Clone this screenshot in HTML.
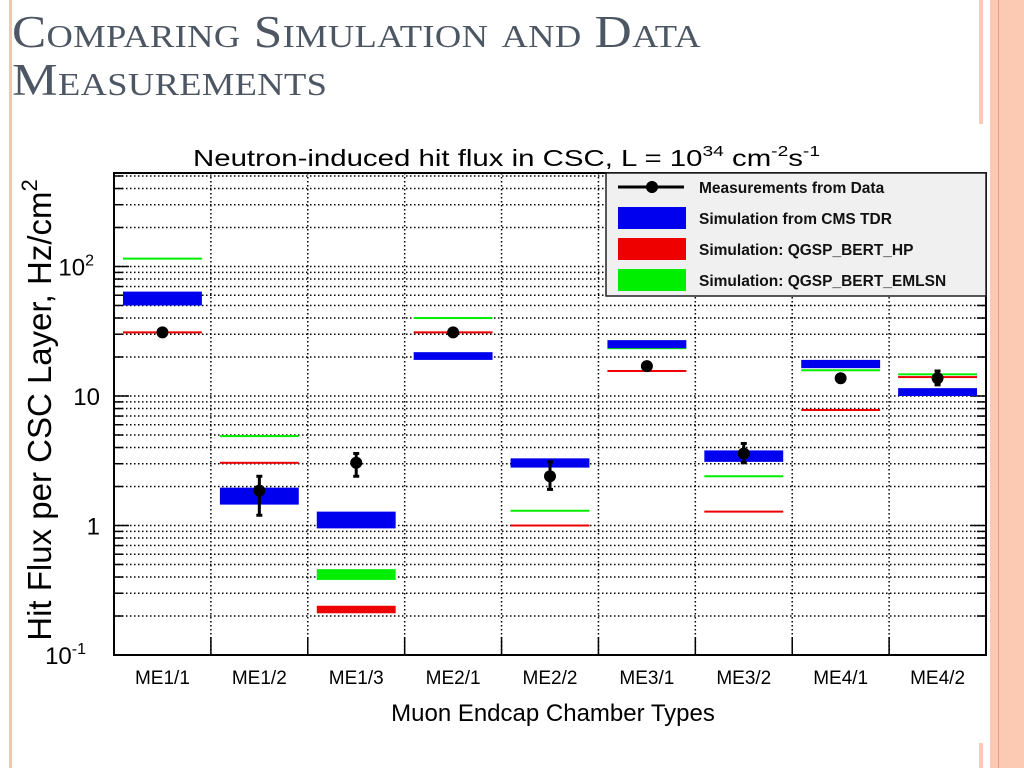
<!DOCTYPE html>
<html><head><meta charset="utf-8"><style>
html,body{margin:0;padding:0;background:#fff;}
body{width:1024px;height:768px;position:relative;overflow:hidden;font-family:"Liberation Sans",sans-serif;}
.deco{position:absolute;}
#slide-title{position:absolute;left:12px;top:8px;font-family:"Liberation Serif",serif;color:#4d5663;font-size:45px;line-height:48px;font-variant:small-caps;letter-spacing:0.3px;margin:0;font-weight:normal;white-space:nowrap;transform:scaleX(1.14);transform-origin:0 0;}
svg{position:absolute;left:0;top:0;}
</style></head><body>
<div class="deco" style="left:9px;top:0;width:3px;height:768px;background:#f9c3b2"></div>
<div class="deco" style="left:990px;top:0;width:34px;height:768px;background:#fcc9b2"></div>
<div class="deco" style="left:998px;top:0;width:1px;height:768px;background:#eea080"></div>
<div class="deco" style="left:979px;top:0;width:4px;height:124px;background:#fccbb8"></div>
<div class="deco" style="left:979px;top:743px;width:4px;height:25px;background:#fccbb8"></div>
<h1 id="slide-title">Comparing Simulation and Data<br>Measurements</h1>
<svg id="chart" width="1024" height="768"></svg>
<script>
const categories=["ME1/1","ME1/2","ME1/3","ME2/1","ME2/2","ME3/1","ME3/2","ME4/1","ME4/2"];
const dataVal=[31,1.86,3.05,31,2.4,17,3.6,13.7,13.7];
const dataLo=[29,1.2,2.4,29,1.9,16,3.05,13,12.2];
const dataHi=[33,2.4,3.6,33,3.1,18,4.3,14.5,15.6];
const tdrLo=[50,1.45,0.95,19,2.8,23.4,3.1,16.4,10];
const tdrHi=[64,1.96,1.28,21.8,3.3,27,3.8,19,11.5];
const hpLo=[31,3.05,0.21,31,1.0,15.6,1.28,7.8,14];
const hpHi=[31,3.05,0.24,31,1.0,15.6,1.28,7.8,14];
const emLo=[115,4.9,0.38,40,1.3,23.4,2.4,15.8,14.7];
const emHi=[115,4.9,0.46,40,1.3,23.4,2.4,15.8,14.7];
const yMajor=[0.1,1,10,100];
const yMajorLabels=["10","1","10","10"];
const yMajorSup=["-1","","","2"];

const NS="http://www.w3.org/2000/svg";
const svg=document.getElementById('chart');
const L=114,R=986,T=173,B=655;
const yMinLog=-1,pxPerDec=129.5;
function y(v){return B-(Math.log10(v)-yMinLog)*pxPerDec;}
const cw=(R-L)/categories.length;
function xc(i){return L+cw*(i+0.5);}
function mk(tag,attrs,parent){const e=document.createElementNS(NS,tag);for(const k in attrs)e.setAttribute(k,attrs[k]);(parent||svg).appendChild(e);return e;}

const grid=mk('g',{});


for(let d=-1;d<3;d++){for(let m=1;m<=9;m++){const v=m*Math.pow(10,d);const yy=y(v);if(yy<T)continue;
  if(yy<B-1){const gl=mk('line',{x1:L,x2:R,y1:yy,y2:yy,stroke:'#000','stroke-width':1.5,'stroke-dasharray':'1.5 2.5'},grid);
  }
  const len=m===1?15:9;
  const t1=mk('line',{x1:L,x2:L+len,y1:yy,y2:yy,stroke:'#000','stroke-width':1.5},grid);
  
  const t2=mk('line',{x1:R-len,x2:R,y1:yy,y2:yy,stroke:'#000','stroke-width':1.5},grid);
  
}}
for(let i=1;i<categories.length;i++){const xx=L+cw*i;
  const vl=mk('line',{x1:xx,x2:xx,y1:T,y2:B,stroke:'#000','stroke-width':1.5,'stroke-dasharray':'1.5 2.5'},grid);
  
  const bt=mk('line',{x1:xx,x2:xx,y1:B-18,y2:B,stroke:'#000','stroke-width':1.5},grid);
  }

const pad=9;
function band(lo,hi,color,name){
  for(let i=0;i<categories.length;i++){
    const y1=y(hi[i]),y2=y(lo[i]);let h=y2-y1;let top=y1;if(h<2){top=(y1+y2)/2-1;h=2;}
    const r=mk('rect',{x:L+cw*i+pad,y:top,width:cw-2*pad,height:h,fill:color});
    
    
  }
}
band(emLo,emHi,'#00ee00','sim-emlsn');
band(tdrLo,tdrHi,'#0000ee','sim-tdr');
band(hpLo,hpHi,'#ee0000','sim-hp');
for(let i=0;i<categories.length;i++){
  const g=mk('g',{});
  
  
  const x=xc(i);
  mk('line',{x1:x,x2:x,y1:y(dataHi[i]),y2:y(dataLo[i]),stroke:'#000','stroke-width':3},g);
  mk('line',{x1:x-3,x2:x+3,y1:y(dataHi[i]),y2:y(dataHi[i]),stroke:'#000','stroke-width':3},g);
  mk('line',{x1:x-3,x2:x+3,y1:y(dataLo[i]),y2:y(dataLo[i]),stroke:'#000','stroke-width':3},g);
  mk('circle',{cx:x,cy:y(dataVal[i]),r:6,fill:'#000'},g);
}
const fr=mk('rect',{x:L,y:T,width:R-L,height:B-T,fill:'none',stroke:'#000','stroke-width':2});


for(let k=0;k<yMajor.length;k++){
  const t=mk('text',{x:L-14,y:y(yMajor[k])+9,'text-anchor':'end','font-size':24,fill:'#000'});
  
  t.textContent=yMajorLabels[k];
  if(yMajorSup[k]){t.setAttribute('x',L-28+(yMajorSup[k].length===1?8:0));const s=mk('tspan',{dy:-10,'font-size':16},t);s.textContent=yMajorSup[k];}
}
for(let i=0;i<categories.length;i++){
  const t=mk('text',{x:xc(i),y:684,'text-anchor':'middle','font-size':19,fill:'#000'});
  
  t.textContent=categories[i];
}
const ct=mk('text',{x:193,y:166,'font-size':23,fill:'#000',textLength:627,lengthAdjust:'spacingAndGlyphs'});

ct.innerHTML='Neutron-induced hit flux in CSC, L = 10<tspan dy="-10" font-size="15">34</tspan><tspan dy="10"> cm</tspan><tspan dy="-10" font-size="15">-2</tspan><tspan dy="10">s</tspan><tspan dy="-10" font-size="15">-1</tspan>';
const xt=mk('text',{x:553,y:721,'text-anchor':'middle','font-size':24,fill:'#000'});

xt.textContent='Muon Endcap Chamber Types';
const yt=mk('text',{x:0,y:0,'text-anchor':'middle','font-size':33,fill:'#000',transform:'translate(51,410) rotate(-90)'});

yt.innerHTML='Hit Flux per CSC Layer, Hz/cm<tspan dy="-14" font-size="22">2</tspan>';

const lg=mk('g',{});

mk('rect',{x:606,y:173,width:380,height:123,fill:'#f0f0f0',stroke:'#222','stroke-width':1.5},lg);
const legNames=['Measurements from Data','Simulation from CMS TDR','Simulation: QGSP_BERT_HP','Simulation: QGSP_BERT_EMLSN'];
const legColors=[null,'#0000ee','#ee0000','#00ee00'];
for(let k=0;k<4;k++){
  const yy=188+k*31;
  const e=mk('g',{},lg);
  
  if(k===0){mk('line',{x1:618,x2:684,y1:yy-1,y2:yy-1,stroke:'#000','stroke-width':3},e);
    mk('line',{x1:652,x2:652,y1:yy-7,y2:yy+5,stroke:'#000','stroke-width':3},e);
    mk('circle',{cx:652,cy:yy-1,r:6,fill:'#000'},e);}
  else mk('rect',{x:618,y:yy-12,width:68,height:22,fill:legColors[k]},e);
  const t=mk('text',{x:699,y:yy+5,'font-size':15.5,'font-weight':'bold',fill:'#111'},e);
  t.textContent=legNames[k];
}
</script>
</body></html>
